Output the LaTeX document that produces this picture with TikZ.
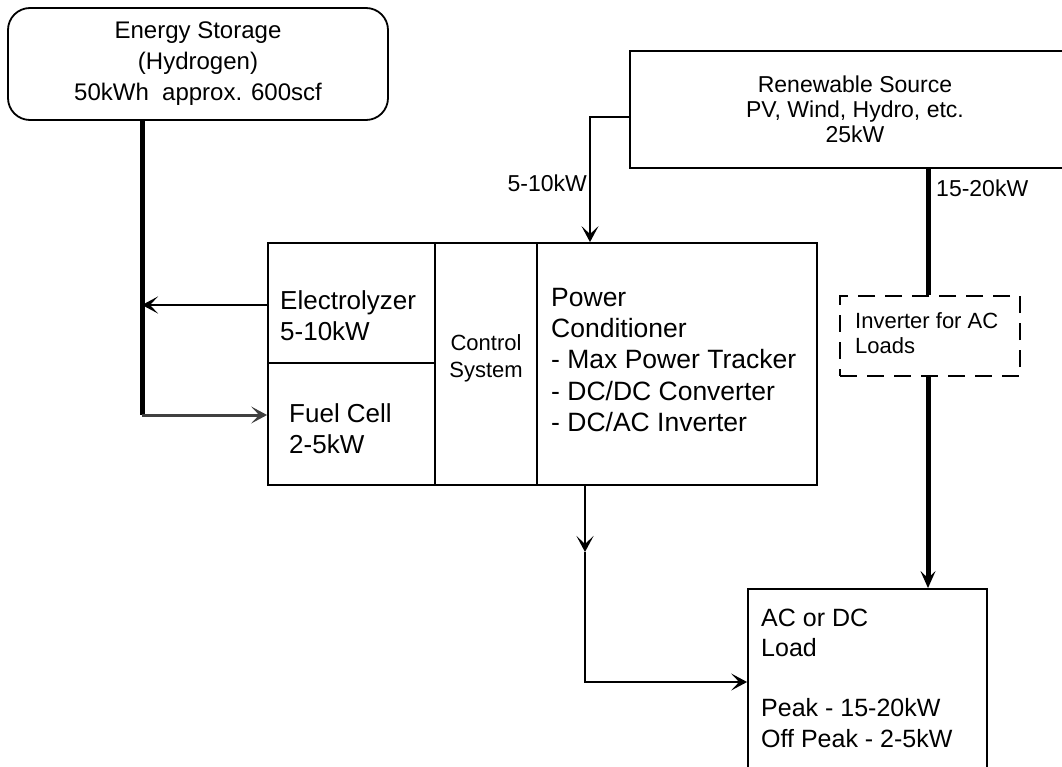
\documentclass[tikz,border=0pt]{standalone}
\usepackage{fontspec}
\setmainfont{Liberation Sans}
\usetikzlibrary{arrows.meta}
\begin{document}
\begin{tikzpicture}[x=1pt,y=-1pt,
  box/.style={draw=black, line width=1.8pt, rectangle, inner sep=0pt},
  txt/.style={inner sep=0pt, align=left, anchor=west},
  thin/.style={line width=1.8pt},
  thick/.style={line width=5pt},
  tip/.style={-{Stealth[length=16pt,width=17pt,inset=8pt]}},
  f26/.style={font=\fontsize{26}{31.3}\selectfont},
  f24/.style={font=\fontsize{24}{31}\selectfont},
  f23/.style={font=\fontsize{23}{25}\selectfont},
  f22/.style={font=\fontsize{22}{25}\selectfont},
]
\useasboundingbox (0,0) rectangle (1062,767);
% boxes
\node[box, rounded corners=22pt, minimum width=380pt, minimum height=112pt, align=center, f24] (stor) at (198,64)
  {Energy Storage\\(Hydrogen)\\50kWh\ \ approx. 600scf};
\node[box, minimum width=450pt, minimum height=117pt, align=center, f23] (ren) at (855,109.5)
  {Renewable Source\\PV, Wind, Hydro, etc.\\25kW};
\node[box, minimum width=167pt, minimum height=120pt] (elec) at (351.5,303) {};
\node[box, minimum width=167pt, minimum height=122pt] (fuel) at (351.5,424) {};
\node[box, minimum width=102pt, minimum height=242pt] (ctrl) at (486,364) {};
\node[box, minimum width=280pt, minimum height=242pt] (pc) at (677,364) {};
\node[box, dash pattern=on 17pt off 10pt, minimum width=180pt, minimum height=80pt] (inv) at (930,336) {};
\node[box, minimum width=239pt, minimum height=211pt] (load) at (867.5,694.5) {};
% texts
\node[txt, f26] (elect) at (280,316) {Electrolyzer\\5-10kW};
\node[txt, f26] (fuelt) at (289,429) {Fuel Cell\\2-5kW};
\node[inner sep=0pt, align=center, font=\fontsize{22}{27}\selectfont] (ctrlt) at (486,358) {Control\\System};
\node[txt, font=\fontsize{26.5}{31.3}\selectfont] (pct) at (551,360) {Power\\Conditioner\\- Max Power Tracker\\- DC/DC Converter\\- DC/AC Inverter};
\node[txt, f22] (invt) at (855,333) {Inverter for AC\\Loads};
\node[txt, font=\fontsize{25}{30.3}\selectfont] (loadt) at (761,678) {AC or DC\\Load\\\mbox{}\\Peak - 15-20kW\\Off Peak - 2-5kW};
% coordinates
\coordinate (bus) at (142,415);
\coordinate (rl) at (590,117);
\coordinate (tx) at (928,0);
\coordinate (outm) at (585,552);
\coordinate (outc) at (585,682);
% connectors
\draw[thick] (stor.south -| bus) -- (bus);
\draw[thin, tip] (elec.west |- 0,305) -- (bus |- 0,305);
\draw[line width=3pt, black!75, tip] (bus) -- (fuel.west |- bus);
\draw[thin, tip] (ren.west |- rl) -- (rl) -- (pc.north -| rl);
\node[inner sep=0pt, anchor=east, f23] (l510) at (587,183) {5-10kW};
\draw[thick] (ren.south -| tx) -- (inv.north -| tx);
\node[inner sep=0pt, anchor=west, f23] (l1520) at (936,188) {15-20kW};
\draw[thick, -{Stealth[length=17pt,width=15pt,inset=7pt]}] (inv.south -| tx) -- (load.north -| tx);
\draw[thin, tip] (pc.south -| outm) -- (outm);
\draw[thin, tip] (outm) -- (outc) -- (load.west |- outc);
\end{tikzpicture}
\end{document}
